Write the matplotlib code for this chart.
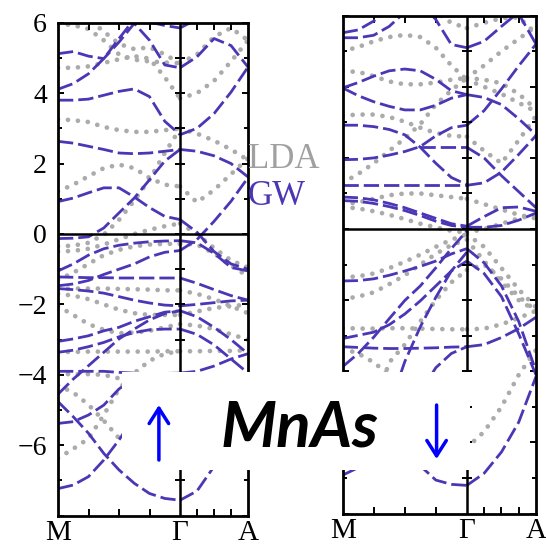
import numpy as np
import matplotlib.pyplot as plt

plt.rcParams['font.family'] = ['Liberation Serif', 'DejaVu Serif']

nan = np.nan

# k path: M -> Gamma -> A
k_mg = [0, 0.125, 0.25, 0.375, 0.5, 0.625, 0.75, 0.875, 1.0]
k_ga = [1.0, 1.139, 1.279, 1.418, 1.557]
k_labels = ['M', 'Γ', 'A']

# ---- spin up (left panel) ----
up_gw_mg = [
    [5.12, 5.18, 5.05, 4.98, 5.45, 5.98, 5.5, 4.8, 4.72],
    [4.11, 4.27, 4.55, 4.98, 5.55, 6.1, 6.02, 5.92, 5.85],
    [3.8, 3.8, 3.83, 3.94, 4.05, 4.12, 3.9, 3.2, 2.82],
    [2.63, 2.58, 2.49, 2.4, 2.3, 2.28, 2.3, 2.35, 2.4],
    [-0.13, -0.12, -0.08, 0.17, 0.6, 1.02, 1.54, 2.07, 2.4],
    [0.92, 1.02, 1.17, 1.31, 1.31, 1.05, 0.75, 0.5, 0.41],
    [-1.05, -0.85, -0.6, -0.42, -0.32, -0.26, -0.22, -0.2, -0.19],
    [-1.47, -1.42, -1.32, -1.15, -1.0, -0.85, -0.65, -0.52, -0.47],
    [-1.22, -1.23, -1.24, -1.24, -1.25, -1.25, -1.25, -1.25, -1.25],
    [-1.55, -1.58, -1.62, -1.68, -1.78, -1.88, -1.96, -2.02, -2.04],
    [-3.05, -2.98, -2.89, -2.75, -2.65, -2.48, -2.35, -2.22, -2.18],
    [-3.36, -3.3, -3.2, -3.08, -2.92, -2.8, -2.72, -2.7, -2.7],
    [-4.55, -4.12, -3.74, -3.36, -2.98, -2.7, -2.44, -2.26, -2.18],
    [-3.9, -3.9, -3.9, -3.9, -3.93, -3.95, -3.97, -3.98, -3.98],
    [-5.38, -5.33, -5.14, -4.86, -4.4, -4.1, -4.0, -3.96, -3.95],
    [-4.76, -5.19, -5.66, -6.23, -6.7, -7.08, -7.37, -7.51, -7.56],
    [-7.23, -7.13, -6.89, -6.42, -5.85, -5.2, -4.6, -4.2, -4.0],
]
up_gw_ga = [
    [4.72, 5.03, 5.55, 5.35, 4.74],
    [5.85, 6.1, 6.4, 6.6, 6.8],
    [2.82, 3.0, 3.42, 4.03, 4.74],
    [2.4, 2.35, 2.22, 2.0, 1.62],
    [0.41, 0.05, -0.5, -0.85, -1.0],
    [-0.19, -0.25, -0.55, -0.95, -1.05],
    [-0.47, -0.16, 0.36, 0.93, 1.6],
    [-1.25, -1.4, -1.58, -1.75, -1.88],
    [-2.04, -2.0, -1.95, -1.9, -1.88],
    [-2.18, -2.35, -2.65, -3.0, -3.4],
    [-2.7, -2.85, -3.15, -3.55, -3.95],
    [-3.95, -3.9, -3.75, -3.55, -3.4],
    [-7.56, -7.3, -6.6, -5.4, -4.1],
]
up_lda_mg = [
    [4.72, 4.72, 4.76, 4.86, 4.96, 5.05, 4.98, 4.45, 3.85],
    [5.97, 5.93, 5.82, 5.5, 5.1, 4.95, 4.9, 4.87, 4.85],
    [6.6, 6.4, 6.1, 5.75, 5.4, 5.25, 5.3, 5.1, 4.85],
    [3.26, 3.23, 3.18, 3.04, 2.95, 2.9, 2.9, 2.95, 2.99],
    [-0.35, -0.33, -0.25, -0.02, 0.4, 0.95, 1.55, 2.3, 2.99],
    [1.21, 1.4, 1.64, 1.87, 1.97, 1.87, 1.59, 1.4, 1.35],
    [-0.5, -0.48, -0.42, -0.3, -0.15, 0.0, 0.12, 0.22, 0.3],
    [-1.3, -1.1, -0.85, -0.6, -0.45, -0.35, -0.3, -0.28, -0.28],
    [-1.56, -1.55, -1.55, -1.55, -1.56, -1.57, -1.58, -1.6, -1.6],
    [-1.7, -1.75, -1.85, -2.0, -2.15, -2.25, -2.3, -2.3, -2.3],
    [-2.05, -2.3, -2.56, -2.72, -2.82, -2.8, -2.75, -2.65, -2.56],
    [-3.35, -3.35, -3.34, -3.34, -3.34, -3.34, -3.34, -3.33, -3.33],
    [-3.98, -3.98, -3.98, -4.0, -4.1, -4.3, -4.5, -4.7, -4.8],
    [-6.37, -6.1, -5.81, -5.14, -4.4, -3.95, -3.6, -3.4, -3.33],
    [-4.3, -4.5, -4.85, -5.3, -5.8, -6.2, -6.4, -6.5, -6.5],
]
up_lda_ga = [
    [3.85, 4.0, 4.35, 4.9, 5.5],
    [4.85, 5.1, 5.6, 5.85, 5.5],
    [2.99, 2.85, 2.65, 2.4, 2.1],
    [1.35, 0.9, 1.25, 1.7, 2.15],
    [0.3, 0.0, -0.4, -0.75, -0.95],
    [-0.28, -0.3, -0.55, -0.9, -1.2],
    [-1.6, -1.7, -1.85, -2.05, -2.25],
    [-2.3, -2.2, -2.1, -2.05, -2.0],
    [-2.56, -2.6, -2.7, -2.85, -3.0],
    [-3.33, -3.33, -3.32, -3.32, -3.3],
]

# ---- spin down (right panel) ----
dn_gw_mg = [
    [5.52, 5.6, 5.85, 6.2, 6.6, 7.0, 7.2, 7.3, 7.4],
    [5.38, 5.38, 5.45, 5.7, 6.1, 6.5, 6.8, 7.0, 7.1],
    [7.5, 7.3, 7.1, 6.9, 6.7, 6.4, 5.89, 5.19, 5.1],
    [3.97, 4.12, 4.3, 4.45, 4.5, 4.45, 4.21, 3.89, 3.78],
    [3.97, 3.75, 3.58, 3.45, 3.35, 3.35, 3.48, 3.68, 3.78],
    [2.92, 2.92, 2.88, 2.8, 2.65, 2.3, 1.85, 1.45, 1.25],
    [1.95, 1.96, 2.0, 2.08, 2.18, 2.32, 2.62, 2.85, 2.92],
    [nan, nan, nan, nan, nan, 2.3, 2.3, 2.3, 2.3],
    [1.23, 1.23, 1.23, 1.23, 1.23, 1.23, 1.23, 1.23, 1.23],
    [0.9, 0.88, 0.82, 0.72, 0.6, 0.45, 0.3, 0.15, 0.08],
    [0.8, 0.78, 0.72, 0.63, 0.52, 0.38, 0.22, 0.1, 0.05],
    [-1.46, -1.45, -1.4, -1.3, -1.18, -1.05, -0.9, -0.7, -0.55],
    [-3.31, -3.33, -3.35, -3.36, -3.36, -3.35, -3.34, -3.32, -3.31],
    [-3.08, -2.99, -2.9, -2.69, -2.39, -2.02, -1.6, -1.18, -0.65],
    [-3.87, -3.5, -3.04, -2.52, -2.01, -1.6, -1.09, -0.55, -0.05],
    [-6.92, -6.71, -6.2, -5.0, -3.73, -2.75, -1.92, -1.18, -0.9],
    [nan, nan, nan, nan, -5.5, -6.66, -7.06, -7.18, -7.21],
    [nan, nan, nan, nan, nan, -4.6, -3.9, -3.5, -3.31],
]
dn_gw_ga = [
    [7.4, 7.0, 6.5, 6.05, 5.2],
    [5.1, 5.28, 5.7, 6.1, 6.5],
    [2.92, 3.33, 3.94, 4.59, 5.2],
    [3.78, 3.7, 3.5, 3.1, 2.65],
    [2.3, 2.0, 1.5, 1.05, 0.6],
    [1.23, 1.3, 1.6, 2.1, 2.63],
    [0.08, 0.35, 0.6, 0.62, 0.5],
    [0.05, 0.05, 0.1, 0.25, 0.45],
    [-0.55, -0.95, -1.6, -2.6, -4.0],
    [-0.9, -1.25, -1.9, -2.95, -4.1],
    [-3.31, -3.25, -3.05, -2.8, -2.48],
    [-7.21, -6.87, -6.27, -5.43, -4.15],
]
dn_lda_mg = [
    [5.0, 5.12, 5.28, 5.4, 5.46, 5.4, 5.1, 4.6, 4.2],
    [4.44, 4.42, 4.3, 4.15, 4.07, 4.07, 4.12, 4.2, 4.25],
    [3.19, 3.22, 3.22, 3.15, 3.02, 2.85, 2.7, 2.62, 2.6],
    [1.3, 1.55, 1.85, 2.2, 2.55, 2.95, 3.5, 3.9, 4.25],
    [7.0, 7.0, 7.0, 6.9, 6.7, 6.4, 6.1, 5.8, 5.65],
    [0.7, 0.75, 0.85, 0.95, 1.0, 1.0, 0.95, 0.9, 0.85],
    [0.62, 0.58, 0.5, 0.4, 0.28, 0.15, 0.05, -0.05, -0.1],
    [-1.36, -1.33, -1.25, -1.1, -0.92, -0.72, -0.5, -0.3, -0.15],
    [-1.97, -1.9, -1.78, -1.55, -1.3, -1.0, -0.7, -0.45, -0.3],
    [-2.78, -2.8, -2.8, -2.79, -2.79, -2.8, -2.81, -2.82, -2.82],
    [-3.36, -3.5, -3.75, -4.1, -4.5, -5.0, -5.5, -5.9, -6.15],
    [nan, nan, -5.0, -3.75, -3.25, -2.6, -2.0, -1.5, -1.15],
]
dn_lda_ga = [
    [4.2, 4.0, 3.8, 3.55, 3.3],
    [4.25, 4.2, 4.1, 3.8, 3.37],
    [2.6, 2.2, 1.85, 2.5, 3.18],
    [4.25, 4.6, 5.0, 5.35, 5.7],
    [5.65, 5.8, 5.93, 5.95, 5.5],
    [0.85, 0.7, 0.55, 0.4, 0.3],
    [-0.1, 0.0, 0.15, 0.3, 0.4],
    [-0.15, -0.5, -1.1, -1.7, -2.2],
    [-0.3, -0.9, -1.5, -2.0, -2.3],
    [-2.82, -2.8, -2.68, -2.5, -2.3],
    [-6.15, -5.7, -5.0, -4.1, -3.4],
    [-1.15, -1.0, -1.4, -1.9, -2.3],
]

GW_COLOR = '#4a37b5'
LDA_COLOR = '#ababab'

fig = plt.figure(figsize=(5.46, 5.48), dpi=100)
ax1 = fig.add_axes([58 / 546, 1 - 515.7 / 548, 190 / 546, 493 / 548])
ax2 = fig.add_axes([342.7 / 546, 1 - 513.5 / 548, 193.3 / 546, 497.8 / 548])


def draw_panel(ax, lda_mg, lda_ga, gw_mg, gw_ga, ymin):
    for b in lda_mg:
        ax.plot(k_mg, b, color=LDA_COLOR, lw=3.4, ls=(0, (0.01, 2.1)),
                dash_capstyle='round', zorder=1)
    for b in lda_ga:
        ax.plot(k_ga, b, color=LDA_COLOR, lw=3.4, ls=(0, (0.01, 2.1)),
                dash_capstyle='round', zorder=1)
    for b in gw_mg:
        ax.plot(k_mg, b, color=GW_COLOR, lw=2.0, ls=(0, (5.5, 1.8)), zorder=2)
    for b in gw_ga:
        ax.plot(k_ga, b, color=GW_COLOR, lw=2.0, ls=(0, (5.5, 1.8)), zorder=2)
    ax.axhline(0, color='k', lw=1.8, zorder=3)
    ax.axvline(1, color='k', lw=1.8, zorder=3)
    yt = np.arange(-7, 6)
    ax.plot([1] * len(yt), yt, ls='none', marker='_', ms=7, mew=1.4,
            color='k', zorder=3)
    ax.set_xlim(0, 1.557)
    ax.set_ylim(ymin, 6)
    ax.set_xticks([0, 1, 1.557])
    ax.set_xticklabels(k_labels, fontsize=21)
    ax.set_xticks([0.25, 0.5, 0.75, 1.139, 1.279, 1.418], minor=True)
    ax.set_yticks(np.arange(-8, 7, 2))
    ax.set_yticks(np.arange(-7, 6, 2), minor=True)
    ax.tick_params(which='both', direction='in', top=True, right=True,
                   width=1.4)
    ax.tick_params(axis='x', which='minor', length=5)
    ax.tick_params(axis='x', which='major', length=0, pad=3)
    ax.tick_params(axis='y', which='major', length=4.5)
    ax.tick_params(axis='y', which='minor', length=3)
    for s in ax.spines.values():
        s.set_linewidth(2.0)


draw_panel(ax1, up_lda_mg, up_lda_ga, up_gw_mg, up_gw_ga, -8)
draw_panel(ax2, dn_lda_mg, dn_lda_ga, dn_gw_mg, dn_gw_ga, -7.87)

ax1.set_yticklabels(['', '−6', '−4', '−2', '0', '2', '4', '6'], fontsize=20)
ax1.tick_params(axis='y', which='major', pad=8)
ax2.tick_params(axis='y', labelleft=False)

fig.text(248 / 546, 1 - 168 / 548, 'LDA', color='#a0a0a0', fontsize=25)
fig.text(248 / 546, 1 - 205 / 548, 'GW', color=GW_COLOR, fontsize=25)

# white label box on top of both panels
ov = fig.add_axes([122 / 546, 1 - 470 / 548, 348 / 546, 98 / 548])
ov.set_facecolor('white')
ov.set_xlim(0, 1)
ov.set_ylim(0, 1)
ov.set_xticks([])
ov.set_yticks([])
for s in ov.spines.values():
    s.set_visible(False)
ov.text(0.509, 0.235, 'MnAs', fontsize=46, style='italic', weight='bold',
        family=['Lato', 'DejaVu Sans'], ha='center', va='baseline')
ov.annotate('', xy=(0.106, 0.663), xytext=(0.106, 0.102),
            arrowprops=dict(arrowstyle='->,head_length=0.55,head_width=0.35',
                            color='#0000ff', lw=2.5, mutation_scale=20,
                            shrinkA=0, shrinkB=0))
ov.annotate('', xy=(0.904, 0.112), xytext=(0.904, 0.663),
            arrowprops=dict(arrowstyle='->,head_length=0.55,head_width=0.35',
                            color='#0000ff', lw=2.5, mutation_scale=20,
                            shrinkA=0, shrinkB=0))

fig.savefig('out.png', dpi=100)
